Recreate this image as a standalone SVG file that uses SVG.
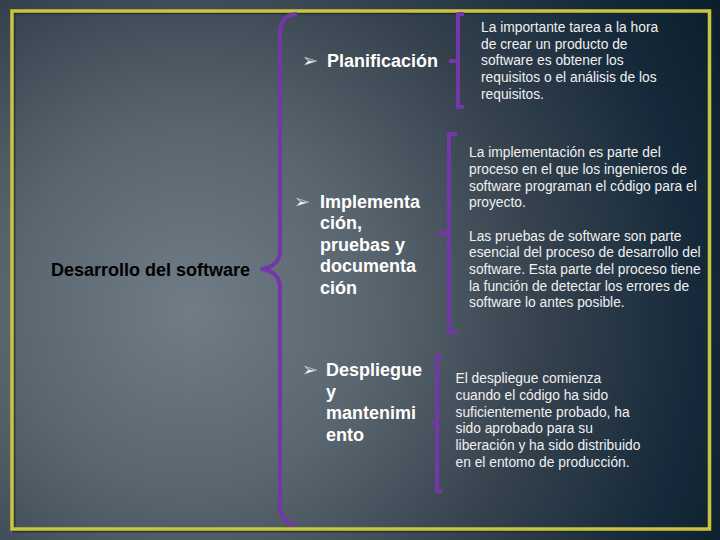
<svg xmlns="http://www.w3.org/2000/svg" width="720" height="540" viewBox="0 0 720 540">
  <defs>
    <radialGradient id="bg" gradientUnits="userSpaceOnUse" cx="190" cy="310" r="600">
      <stop offset="0" stop-color="#717d86"/>
      <stop offset="0.3" stop-color="#5a666f"/>
      <stop offset="0.6" stop-color="#34414d"/>
      <stop offset="0.85" stop-color="#15293a"/>
      <stop offset="1" stop-color="#0c1f2d"/>
    </radialGradient>
    <style>
      .brace { fill: none; stroke: #7436a8; stroke-width: 4; stroke-linecap: butt; stroke-linejoin: round; }
      .head { font-family: "Liberation Sans", Arial, sans-serif; font-weight: bold; font-size: 18px; fill: #ffffff; }
      .root { font-family: "Liberation Sans", Arial, sans-serif; font-weight: bold; font-size: 18px; fill: #000000; }
      .bul { font-family: "DejaVu Sans", sans-serif; font-size: 19px; fill: #ffffff; stroke: #8a939a; stroke-width: 0.4; }
      .body { font-family: "Liberation Sans", Arial, sans-serif; font-size: 13.8px; fill: #f0f0f0; }
    </style>
  </defs>

  <rect x="0" y="0" width="720" height="540" fill="url(#bg)"/>

  <g id="frame">
    <rect x="14" y="13" width="697.5" height="518" fill="none" stroke="#1a2530" stroke-width="3" opacity="0.6"/>
    <rect x="12" y="11" width="697.5" height="518" fill="none" stroke="#c9c53c" stroke-width="3.5"/>
  </g>

  <g id="connectors">
    <path class="brace" d="M297,14 Q280,15 280,34 L280,250 Q280,266 262,269 Q280,272 280,288 L280,505 Q280,523 297,525"/>
    <path class="brace" d="M464,14 L458,14 L458,107 L464,107 M449,61 L458,61"/>
    <path class="brace" d="M457,134 L449,134 L449,332 L457,332 M437,233 L449,233"/>
    <path class="brace" d="M442,356 L437,356 L437,491 L442,491 M432,423 L437,423"/>
  </g>

  <g id="node-root">
    <text class="root" x="250" y="276" text-anchor="end">Desarrollo del software</text>
  </g>

  <g id="node-planificacion">
    <text class="bul" x="302" y="67">➢</text>
    <text class="head" x="327" y="67">Planificación</text>
  </g>

  <g id="node-implementacion">
    <text class="bul" x="294" y="208">➢</text>
    <text class="head" x="320" y="207.5">Implementa</text>
    <text class="head" x="320" y="229">ción,</text>
    <text class="head" x="320" y="250.5">pruebas y</text>
    <text class="head" x="320" y="272">documenta</text>
    <text class="head" x="320" y="293.5">ción</text>
  </g>

  <g id="node-despliegue">
    <text class="bul" x="302" y="376">➢</text>
    <text class="head" x="326" y="376">Despliegue</text>
    <text class="head" x="326" y="397.5">y</text>
    <text class="head" x="326" y="419">mantenimi</text>
    <text class="head" x="326" y="440.5">ento</text>
  </g>

  <g id="desc-planificacion">
    <text class="body" x="481" y="32">La importante tarea a la hora</text>
    <text class="body" x="481" y="48.7">de crear un producto de</text>
    <text class="body" x="481" y="65.3">software es obtener los</text>
    <text class="body" x="481" y="82">requisitos o el análisis de los</text>
    <text class="body" x="481" y="98.7">requisitos.</text>
  </g>

  <g id="desc-implementacion">
    <text class="body" x="469" y="157.3">La implementación es parte del</text>
    <text class="body" x="469" y="174">proceso en el que los ingenieros de</text>
    <text class="body" x="469" y="190.7">software programan el código para el</text>
    <text class="body" x="469" y="207.3">proyecto.</text>
    <text class="body" x="469" y="240.7">Las pruebas de software son parte</text>
    <text class="body" x="469" y="257.3">esencial del proceso de desarrollo del</text>
    <text class="body" x="469" y="274">software. Esta parte del proceso tiene</text>
    <text class="body" x="469" y="290.7">la función de detectar los errores de</text>
    <text class="body" x="469" y="307.3">software lo antes posible.</text>
  </g>

  <g id="desc-despliegue">
    <text class="body" x="455.5" y="383.3">El despliegue comienza</text>
    <text class="body" x="455.5" y="400">cuando el código ha sido</text>
    <text class="body" x="455.5" y="416.7">suficientemente probado, ha</text>
    <text class="body" x="455.5" y="433.3">sido aprobado para su</text>
    <text class="body" x="455.5" y="450">liberación y ha sido distribuido</text>
    <text class="body" x="455.5" y="467">en el entomo de producción.</text>
  </g>
</svg>
